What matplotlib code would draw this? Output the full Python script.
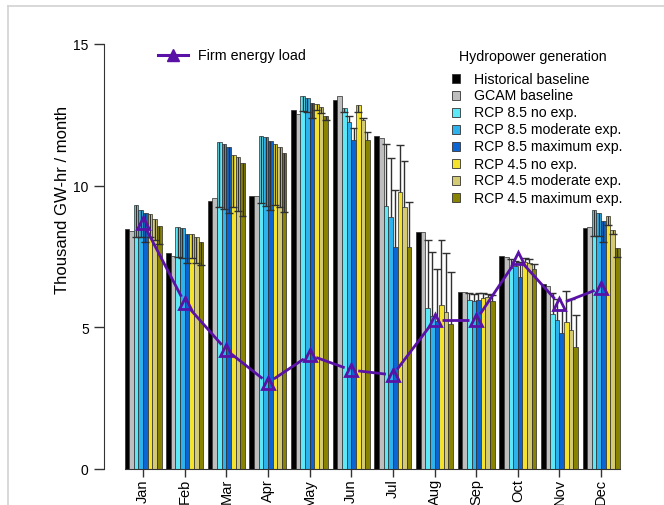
import matplotlib
matplotlib.use("Agg")
import matplotlib.pyplot as plt
from matplotlib.lines import Line2D
from matplotlib.patches import Rectangle
import numpy as np

plt.rcParams['font.family'] = ['Liberation Sans', 'DejaVu Sans']

months = ["Jan", "Feb", "Mar", "Apr", "May", "Jun", "Jul", "Aug", "Sep", "Oct", "Nov", "Dec"]

# bar heights, thousand GW-hr / month
hist_base = [8.47, 7.62, 9.47, 9.65, 12.68, 13.04, 11.74, 8.35, 6.24, 7.53, 6.53, 8.50]
gcam_base = [8.41, 7.53, 9.55, 9.62, 12.53, 13.15, 11.67, 8.35, 6.24, 7.49, 6.47, 8.53]
rcp85_no = [9.33, 8.53, 11.53, 11.74, 13.15, 12.73, 9.27, 5.67, 5.98, 7.08, 5.47, 9.15]
rcp85_mod = [9.15, 8.49, 11.47, 11.71, 13.08, 12.24, 8.88, 5.39, 5.94, 7.18, 5.27, 9.04]
rcp85_max = [9.04, 8.29, 11.35, 11.59, 12.91, 11.62, 7.85, 5.24, 5.98, 6.77, 4.80, 8.75]
rcp45_no = [9.00, 8.29, 11.10, 11.47, 12.88, 12.84, 9.76, 5.79, 6.02, 7.32, 5.20, 8.92]
rcp45_mod = [8.82, 8.18, 11.00, 11.35, 12.77, 12.33, 9.26, 5.53, 6.06, 7.26, 4.92, 8.45]
rcp45_max = [8.57, 8.00, 10.79, 11.15, 12.47, 11.62, 7.83, 5.13, 5.94, 7.06, 4.30, 7.79]

# where each error whisker ends (no whiskers on the two baselines)
err85_no = [8.20, 7.50, 9.26, 9.38, 12.65, 12.60, 11.47, 8.09, 6.20, 7.40, 6.20, 8.24]
err85_mod = [8.20, 7.45, 9.18, 9.30, 12.59, 12.45, 10.97, 7.67, 6.18, 7.35, 6.00, 8.24]
err85_max = [8.00, 7.27, 9.03, 9.15, 12.39, 12.05, 9.86, 7.06, 6.20, 7.30, 5.60, 8.00]
err45_no = [8.20, 7.45, 9.24, 9.33, 12.67, 12.60, 11.44, 8.09, 6.20, 7.45, 6.30, 8.61]
err45_mod = [8.10, 7.27, 9.12, 9.24, 12.57, 12.40, 10.88, 7.61, 6.18, 7.40, 6.00, 8.29]
err45_max = [7.95, 7.20, 8.94, 9.08, 12.32, 11.90, 9.44, 6.97, 6.14, 7.25, 5.45, 7.50]

firm_load = [8.68, 5.86, 4.20, 3.04, 4.02, 3.49, 3.32, 5.26, 5.26, 7.45, 5.82, 6.39]

series = [hist_base, gcam_base, rcp85_no, rcp85_mod, rcp85_max, rcp45_no, rcp45_mod, rcp45_max]
errors = [None, None, err85_no, err85_mod, err85_max, err45_no, err45_mod, err45_max]
labels = ["Historical baseline", "GCAM baseline", "RCP 8.5 no exp.", "RCP 8.5 moderate exp.",
          "RCP 8.5 maximum exp.", "RCP 4.5 no exp.", "RCP 4.5 moderate exp.", "RCP 4.5 maximum exp."]
colors = ["#000000", "#BEBEBE", "#5CE8F6", "#2CB2EC", "#0B66D4", "#F4E22C", "#D4CA74", "#888300"]
purple = "#5A12A6"

W, H = 664, 506
fig = plt.figure(figsize=(W / 100, H / 100), dpi=100)

def fx(x):
    return x / W

def fy(y):
    return 1 - y / H

# axes in pixel terms: left spine at x=104, 0 at y=470, 15 at y=45
ax = fig.add_axes([fx(104), fy(470), fx(640) - fx(104), fy(45) - fy(470)])

n_groups = len(months)
n_bars = len(series)
step = n_bars + 1  # one empty slot between groups, like R barplot beside=TRUE
group_left = np.arange(n_groups) * step + 1
centers = group_left + n_bars / 2

ax.set_xlim((104 - 119.9) / 4.627, (640 - 119.9) / 4.627)
ax.set_ylim(0, 15)

for i, (vals, col) in enumerate(zip(series, colors)):
    x = group_left + i + 0.5
    ax.bar(x, vals, width=1.0, color=col, edgecolor="#2a2a2a", linewidth=0.5, zorder=2)

for i, ends in enumerate(errors):
    if ends is None:
        continue
    x = group_left + i + 0.5
    ax.vlines(x, series[i], ends, color="#303030", linewidth=1.0, zorder=3)
    ax.hlines(ends, x - 0.85, x + 0.85, color="#303030", linewidth=1.0, zorder=3)

# type="b" look: line segments stop short of the point symbols
pts = ax.transData.transform(np.column_stack([centers, firm_load]))
gap = 7.0
for a, b in zip(pts[:-1], pts[1:]):
    d = b - a
    L = np.hypot(*d)
    if L <= 2 * gap:
        continue
    u = d / L
    seg = ax.transData.inverted().transform(np.array([a + u * gap, b - u * gap]))
    ax.plot(seg[:, 0], seg[:, 1], color=purple, linewidth=2.0, zorder=4,
            solid_capstyle="butt")
ax.plot(centers, firm_load, linestyle="none", marker="^", markersize=8.5,
        markerfacecolor="none", markeredgecolor=purple, markeredgewidth=2.0, zorder=5)

for s in ["top", "right"]:
    ax.spines[s].set_visible(False)
ax.spines["left"].set_bounds(0, 15)
ax.spines["bottom"].set_bounds(group_left[0], group_left[-1] + n_bars)
ax.spines["left"].set_color("#333333")
ax.spines["bottom"].set_color("#333333")

ax.set_yticks([0, 5, 10, 15])
ax.set_yticklabels(["0", "5", "10", "15"])
ax.set_xticks(centers)
ax.set_xticklabels(months, rotation=90)
ax.tick_params(axis="y", length=7, width=1, pad=4, labelsize=10, color="#333333")
ax.tick_params(axis="x", length=5.5, width=1, pad=1, labelsize=10.5, color="#333333")

fig.text(fx(62.5), fy(200), "Thousand GW-hr / month", rotation=90,
         ha="center", va="center", fontsize=12)

# legend for the load line
fig.add_artist(Line2D([fx(158), fx(188)], [fy(56), fy(56)], color=purple, linewidth=2.2,
                      transform=fig.transFigure))
fig.add_artist(Line2D([fx(173)], [fy(56)], marker="^", markersize=9, color=purple,
                      transform=fig.transFigure))
fig.text(fx(198), fy(56), "Firm energy load", ha="left", va="center", fontsize=10.3)

# legend for hydropower bars
fig.text(fx(459), fy(57), "Hydropower generation", ha="left", va="center", fontsize=10.2)
for k, (lab, col) in enumerate(zip(labels, colors)):
    yc = 79.5 + 17.0 * k
    fig.add_artist(Rectangle((fx(451.5), fy(yc + 4.5)), fx(9), fy(yc - 4.5) - fy(yc + 4.5),
                             facecolor=col, edgecolor="#333333", linewidth=0.6,
                             transform=fig.transFigure))
    fig.text(fx(474), fy(yc), lab, ha="left", va="center", fontsize=10.2)

# thin frame of the original screenshot
fig.add_artist(Line2D([fx(8), fx(664)], [fy(7), fy(7)], color="#d2d2d2", linewidth=1.2,
                      transform=fig.transFigure))
fig.add_artist(Line2D([fx(8), fx(8)], [fy(7), fy(506)], color="#d2d2d2", linewidth=1.2,
                      transform=fig.transFigure))

fig.savefig("out.png", dpi=100)
